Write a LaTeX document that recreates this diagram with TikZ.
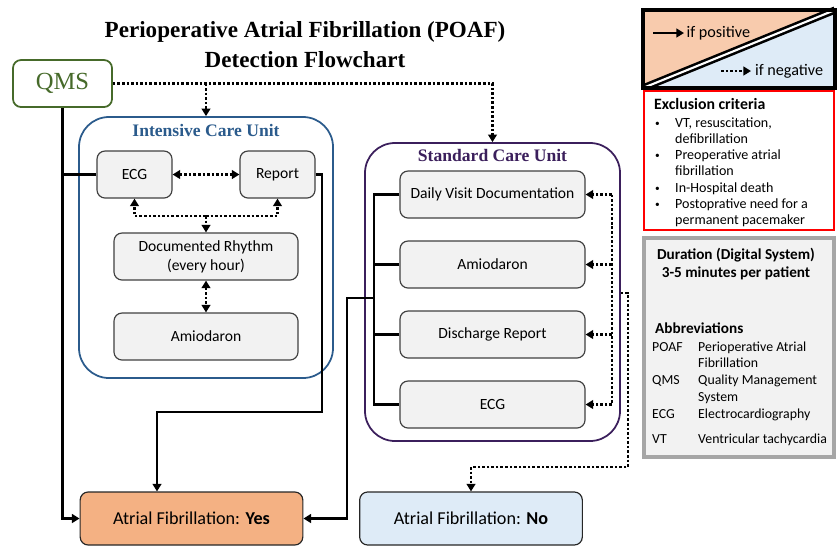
\documentclass[tikz,border=0pt]{standalone}
\usepackage{fontspec}
\setmainfont{Carlito}
\newfontfamily\goudy{Liberation Serif}
\usepackage{tikz}
\usetikzlibrary{arrows.meta,calc}

\definecolor{boxgray}{HTML}{F2F2F2}
\definecolor{boxline}{HTML}{404040}
\definecolor{icublue}{HTML}{2B5B8C}
\definecolor{scupurple}{HTML}{3B1F5C}
\definecolor{qmsgreen}{HTML}{466A2A}
\definecolor{yesorange}{HTML}{F4B183}
\definecolor{noblue}{HTML}{DEEBF7}
\definecolor{legorange}{HTML}{F8CBAD}
\definecolor{durgray}{HTML}{A6A6A6}

\newcommand{\smallbullet}{\raisebox{0.1ex}{\footnotesize\textbullet}}

\begin{document}
\begin{tikzpicture}[x=0.03cm, y=-0.03cm,
    >={Triangle[length=6.5pt,width=7.5pt]},
    stepbox/.style={draw=boxline, fill=boxgray, rounded corners=0.24cm, line width=1pt,
        minimum height=1.41cm, align=center, font=\fontsize{13.3}{16}\selectfont},
    unitbox/.style={draw, rounded corners=0.9cm, line width=1.5pt},
    resultbox/.style={draw=black!85, rounded corners=0.24cm, line width=1pt,
        minimum width=6.68cm, minimum height=1.59cm, font=\fontsize{15.5}{18}\selectfont},
    posline/.style={line width=2.3pt, ->},
    negline/.style={line width=2.2pt, dash pattern=on 2.2pt off 1.7pt, ->},
    unittitle/.style={font=\goudy\bfseries\fontsize{15}{18}\selectfont},
    txt/.style={inner sep=0pt, font=\fontsize{12}{13.9}\selectfont}]

    \useasboundingbox (0,0) rectangle (838,546);

    % Title
    \node[align=center, font=\goudy\bfseries\fontsize{19.7}{25.6}\selectfont] (title) at (305,45)
        {Perioperative Atrial Fibrillation (POAF)\\Detection Flowchart};

    % QMS
    \node[draw=qmsgreen, text=qmsgreen, rounded corners=0.24cm, line width=1.5pt,
        minimum width=2.97cm, minimum height=1.41cm, font=\goudy\fontsize{21}{23}\selectfont]
        (qms) at (62.5,83.5) {QMS};

    % Intensive Care Unit
    \node[unitbox, draw=icublue, minimum width=7.62cm, minimum height=7.83cm] (icu) at (206,247.5) {};
    \node[unittitle, text=icublue] (icut) at (206,130) {Intensive Care Unit};
    \node[stepbox, minimum width=2.25cm] (ecg1) at (134.5,174.5) {ECG};
    \node[stepbox, minimum width=2.25cm] (report) at (277.5,174.5) {Report};
    \node[stepbox, minimum width=5.52cm] (rhythm) at (206,256.5) {Documented Rhythm\\(every hour)};
    \node[stepbox, minimum width=5.52cm] (amio1) at (206,336.5) {Amiodaron};

    % Standard Care Unit
    \node[unitbox, draw=scupurple, minimum width=7.65cm, minimum height=8.94cm] (scu) at (492.5,292) {};
    \node[unittitle, text=scupurple] (scut) at (492.5,155) {Standard Care Unit};
    \node[stepbox, minimum width=5.55cm] (dvd) at (492.5,194.5) {Daily Visit Documentation};
    \node[stepbox, minimum width=5.55cm] (amio2) at (492.5,264.5) {Amiodaron};
    \node[stepbox, minimum width=5.55cm] (disch) at (492.5,334.5) {Discharge Report};
    \node[stepbox, minimum width=5.55cm] (ecg2) at (492.5,404.5) {ECG};

    % Results
    \node[resultbox, fill=yesorange] (afyes) at (191.5,518.5) {Atrial Fibrillation: \textbf{Yes}};
    \node[resultbox, fill=noblue] (afno) at (471,518.5) {Atrial Fibrillation: \textbf{No}};

    % QMS connectors
    \draw[negline] (qms.east) -| (scu.north);
    \draw[negline] (icu.north |- qms.east) -- (icu.north);
    \draw[posline] (qms.south) |- (afyes.west);
    \draw[posline, -] (ecg1.west) -- (qms.south |- ecg1.west);

    % ICU connectors
    \coordinate (rj) at (206,216);
    \coordinate (rturn) at (322,412);
    \coordinate (rdrop) at (157,412);
    \draw[negline, <->] (ecg1) -- (report);
    \draw[negline] (rj) -| (ecg1.south);
    \draw[negline] (rj) -| (report.south);
    \draw[negline] (rj) -- (rhythm.north);
    \draw[negline, <->] (rhythm) -- (amio1);
    \draw[posline] (report.east) -| (rturn) -- (rdrop) -- (rdrop |- afyes.north);

    % SCU connectors
    \coordinate (sl) at (374,0);
    \coordinate (sj) at (374,298);
    \coordinate (sk) at (347,298);
    \coordinate (sr) at (612,0);
    \coordinate (sn) at (628,293);
    \coordinate (snd) at (628,467);
    \draw[posline, -] (dvd.west) -| (sl |- ecg2.west) -- (ecg2.west);
    \draw[posline, -] (amio2.west) -- (sl |- amio2.west);
    \draw[posline, -] (disch.west) -- (sl |- disch.west);
    \draw[posline] (sj) -- (sk) |- (afyes.east);
    \draw[negline, -] (sr |- dvd.east) -- (sr |- ecg2.east);
    \foreach \b in {dvd,amio2,disch,ecg2}
        \draw[negline] (sr |- \b.east) -- (\b.east);
    \draw[negline] (scu.east |- sn) -- (sn) -- (snd) -| (afno.north);

    % Legend
    \fill[legorange] (643,10) -- (835,10) -- (643,88) -- cycle;
    \fill[noblue] (835,10) -- (835,88) -- (643,88) -- cycle;
    \draw[line width=2.2pt, double=white, double distance=1.8pt] (643,88) -- (835,10);
    \draw[line width=3pt] (643,10) rectangle (835,88);
    \node[anchor=west, inner sep=2pt, font=\fontsize{13.8}{16}\selectfont] (lpos) at (684,33) {if positive};
    \node[anchor=west, font=\fontsize{13.8}{16}\selectfont] (lneg) at (751,71) {if negative};
    \coordinate (lposs) at (653,33);
    \coordinate (lnegs) at (721,71);
    \draw[posline] (lposs) -- (lpos.west);
    \draw[negline] (lnegs) -- (lneg.west);

    % Exclusion criteria
    \node[draw=red, line width=2.4pt, minimum width=5.7cm, minimum height=4.17cm] (excl) at (739,160.5) {};
    \node[txt, anchor=west, font=\bfseries\fontsize{13.5}{15}\selectfont] (exclh) at (654,104) {Exclusion criteria};
    \node[txt, anchor=base west] (excltxt) at (655,127) {%
        \begin{tabular}[t]{@{}p{0.6cm}@{}l@{}}
        \smallbullet & VT, resuscitation,\\
        & defibrillation\\
        \smallbullet & Preoperative atrial\\
        & fibrillation\\
        \smallbullet & In-Hospital death\\
        \smallbullet & Postoprative need for a\\
        & permanent pacemaker
        \end{tabular}};

    % Duration and abbreviations
    \node[draw=durgray, fill=boxgray, line width=2.6pt, minimum width=5.7cm, minimum height=6.57cm] (dur) at (739,347.5) {};
    \node[align=center, font=\bfseries\fontsize{13}{15.4}\selectfont] (durt) at (736,264)
        {Duration (Digital System)\\3-5 minutes per patient};
    \node[txt, anchor=west, font=\bfseries\fontsize{13}{15}\selectfont] (abbr) at (655,328) {Abbreviations};
    \node[txt, anchor=base west, font=\fontsize{11.8}{14.3}\selectfont] (abbrtxt) at (652,351) {%
        \begin{tabular}[t]{@{}p{1.38cm}@{}l@{}}
        POAF & Perioperative Atrial\\
        & Fibrillation\\
        QMS & Quality Management\\
        & System\\
        ECG & Electrocardiography\\[7.5pt]
        VT & Ventricular tachycardia
        \end{tabular}};
\end{tikzpicture}
\end{document}
